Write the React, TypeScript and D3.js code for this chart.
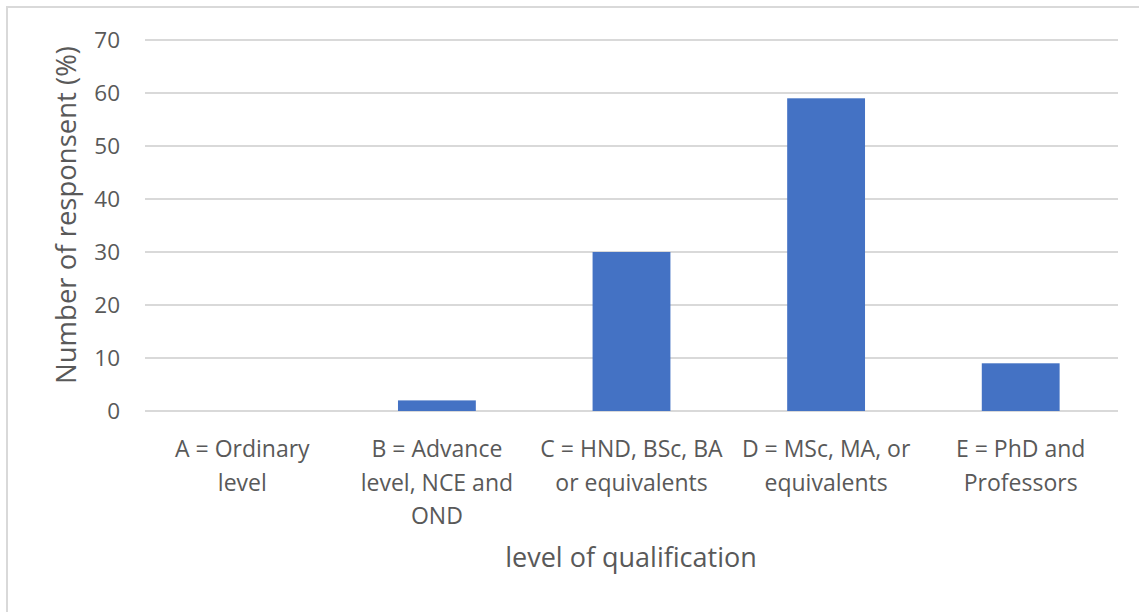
import React from "react";
import * as d3 from "d3";

const categories = ["A", "B", "C", "D", "E"];
const categoryLabels = [
  ["A = Ordinary", "level"],
  ["B = Advance", "level, NCE and", "OND"],
  ["C = HND, BSc, BA", "or equivalents"],
  ["D = MSc, MA, or", "equivalents"],
  ["E = PhD and", "Professors"],
];
const values = [0, 2, 30, 59, 9];
const yTicks = [0, 10, 20, 30, 40, 50, 60, 70];
const yTitle = "Number of responsent (%)";
const xTitle = "level of qualification";

const W = 1139;
const H = 612;
const M = { left: 145, right: 1118, top: 40, bottom: 411 };
const FONT = "'Open Sans', 'Liberation Sans', sans-serif";
const TXT = "#595959";

export default function App() {
  const x = d3.scaleBand<string>().domain(categories).range([M.left, M.right]).paddingInner(0.6).paddingOuter(0.3);
  const y = d3.scaleLinear().domain([0, 70]).range([M.bottom, M.top]);
  return (
    <svg width={W} height={H} style={{ position: "absolute", left: 0, top: 0, background: "#fff" }}>
      <rect x={7} y={7} width={W} height={H} fill="#fff" stroke="#d9d9d9" strokeWidth={2} />
      {yTicks.map((t) => (
        <g key={t}>
          <line x1={M.left} x2={M.right} y1={y(t)} y2={y(t)} stroke="#d9d9d9" strokeWidth={2} />
          <text x={120} y={y(t)} dy="0.36em" textAnchor="end" fontFamily={FONT} fontSize={22.5} fill={TXT}>
            {t}
          </text>
        </g>
      ))}
      {categories.map((c, i) => (
        <rect key={c} x={x(c)} y={y(values[i])} width={x.bandwidth()} height={y(0) - y(values[i])} fill="#4472c4" />
      ))}
      {categories.map((c, i) => (
        <text key={c} textAnchor="middle" fontFamily={FONT} fontSize={23} fill={TXT}>
          {categoryLabels[i].map((ln, j) => (
            <tspan key={j} x={(x(c) as number) + x.bandwidth() / 2} y={457 + j * 33.5}>
              {ln}
            </tspan>
          ))}
        </text>
      ))}
      <text transform={`translate(76,215) rotate(-90)`} textAnchor="middle" fontFamily={FONT} fontSize={27.5} fill={TXT}>
        {yTitle}
      </text>
      <text x={631} y={567} textAnchor="middle" fontFamily={FONT} fontSize={27} fill={TXT}>
        {xTitle}
      </text>
    </svg>
  );
}
